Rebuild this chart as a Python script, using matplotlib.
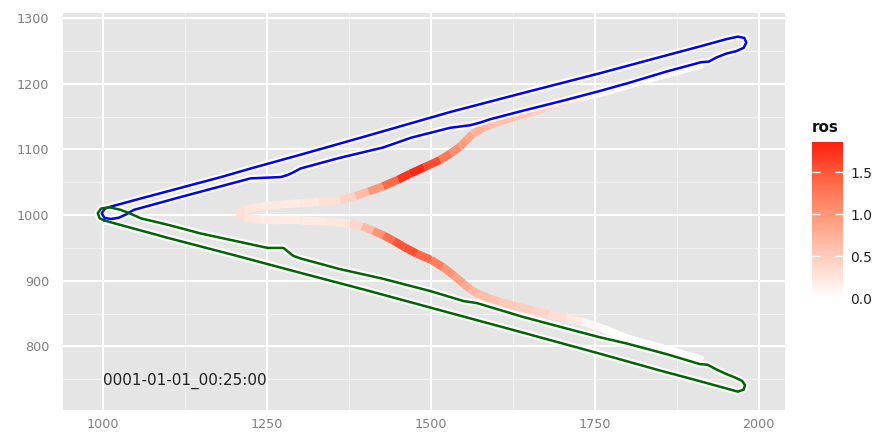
import numpy as np
import matplotlib.pyplot as plt
from matplotlib.collections import LineCollection
from matplotlib.colors import LinearSegmentedColormap, Normalize

# perimeter of the upper (blue) fire front
blue_x = [1003, 1012, 1060, 1120, 1180, 1225, 1301, 1400, 1529, 1640, 1757, 1850, 1910, 1950,
          1968, 1978, 1981, 1977, 1966, 1950, 1935, 1924, 1912, 1860, 1800, 1757, 1700, 1640,
          1590, 1575, 1560, 1529, 1470, 1427, 1360, 1301, 1290, 1281, 1271, 1225, 1180, 1120,
          1080, 1047, 1035, 1024, 1012, 1002, 998, 1003]
blue_y = [1010, 1013, 1026, 1042, 1058, 1071, 1092, 1120, 1157, 1186, 1216, 1241, 1257, 1268,
          1272, 1270, 1263, 1255, 1250, 1246, 1240, 1234, 1233, 1219, 1201, 1189, 1174, 1159,
          1146, 1141, 1137, 1133, 1118, 1103, 1087, 1071, 1065, 1061, 1058, 1056, 1044, 1028,
          1017, 1008, 1001, 996, 994, 996, 1003, 1010]

# perimeter of the lower (green) fire front
green_x = [1002, 1012, 1100, 1200, 1301, 1400, 1529, 1640, 1757, 1850, 1910, 1950, 1968, 1977,
           1979, 1975, 1965, 1950, 1935, 1922, 1910, 1860, 1800, 1757, 1700, 1640, 1590, 1570,
           1550, 1500, 1427, 1360, 1301, 1290, 1275, 1251, 1200, 1149, 1100, 1058, 1040, 1027,
           1010, 997, 992, 995, 1002]
green_y = [992, 989, 965, 939, 912, 886, 851, 821, 789, 763, 747, 736, 731, 734,
           741, 747, 752, 758, 765, 772, 773, 788, 804, 814, 829, 845, 860, 866,
           869, 884, 903, 918, 934, 938, 950, 950, 961, 972, 985, 995, 1003, 1008,
           1012, 1010, 1003, 995, 992]

# rate of spread along the two branches
up_x = [1205, 1215, 1240, 1270, 1301, 1330, 1362, 1385, 1405, 1427, 1450, 1468, 1490, 1514, 1530,
        1544, 1555, 1564, 1580, 1594, 1625, 1655, 1680, 1706, 1725, 1742, 1780, 1850, 1915]
up_y = [1003, 1008, 1013, 1016, 1018, 1020, 1023, 1029, 1036, 1044, 1054, 1063, 1073, 1084, 1094,
        1104, 1115, 1124, 1133, 1139, 1149, 1157, 1166, 1174, 1178, 1182, 1192, 1213, 1230]
up_ros = [0.35, 0.3, 0.22, 0.2, 0.2, 0.25, 0.35, 0.5, 0.8, 1.2, 1.6, 1.86, 1.75, 1.4, 1.15,
          1.0, 0.9, 0.8, 0.7, 0.65, 0.58, 0.5, 0.42, 0.32, 0.2, 0.1, 0.02, 0.0, 0.04]

lo_x = [1205, 1215, 1240, 1270, 1301, 1340, 1377, 1395, 1412, 1428, 1443, 1460, 1479, 1500, 1518,
        1535, 1549, 1560, 1570, 1590, 1605, 1630, 1655, 1680, 1706, 1730, 1760, 1800, 1850, 1915]
lo_y = [1003, 997, 993, 992, 992, 990, 987, 983, 976, 969, 961, 951, 941, 932, 921,
        908, 896, 887, 881, 873, 868, 861, 855, 849, 843, 838, 828, 812, 798, 779]
lo_ros = [0.35, 0.3, 0.22, 0.2, 0.2, 0.22, 0.3, 0.5, 0.85, 1.2, 1.45, 1.6, 1.5, 1.3, 1.1,
          0.95, 0.85, 0.75, 0.68, 0.6, 0.55, 0.5, 0.45, 0.38, 0.28, 0.15, 0.05, 0.0, 0.0, 0.04]

stamp = "0001-01-01_00:25:00"

cmap = LinearSegmentedColormap.from_list(
    "ros", ["#FFFFFF", "#FFCFBF", "#FF9E81", "#FF6846", "#FF2010"])
norm = Normalize(0, max(up_ros + lo_ros))

fig = plt.figure(figsize=(8.91, 4.34), dpi=100)
ax = fig.add_axes([63 / 891, 24 / 434, 722 / 891, 397 / 434])
ax.set_facecolor("#E5E5E5")


def segments(x, y, v):
    pts = np.column_stack([x, y])
    segs = np.stack([pts[:-1], pts[1:]], axis=1)
    vals = (np.array(v[:-1]) + np.array(v[1:])) / 2
    return segs, vals


for x, y, v in [(up_x, up_y, up_ros), (lo_x, lo_y, lo_ros)]:
    segs, vals = segments(x, y, v)
    lc = LineCollection(segs, cmap=cmap, norm=norm, linewidths=5.8,
                        capstyle="butt", joinstyle="round", zorder=2)
    lc.set_array(vals)
    ax.add_collection(lc)

for x, y, c in [(blue_x, blue_y, "#0000FF"), (green_x, green_y, "#006400")]:
    ax.plot(x, y, color="white", lw=5, solid_joinstyle="round", alpha=0.9, zorder=3)
    ax.plot(x, y, color=c, lw=1.8, solid_joinstyle="round", zorder=4)

ax.text(1125, 747, stamp, ha="center", va="center", fontsize=11, color="#222222")

ax.set_xlim(939, 2040)
ax.set_ylim(703, 1308)
ax.set_xticks([1000, 1250, 1500, 1750, 2000])
ax.set_xticks([1125, 1375, 1625, 1875], minor=True)
ax.set_yticks([800, 900, 1000, 1100, 1200, 1300])
ax.set_yticks([750, 850, 950, 1050, 1150, 1250], minor=True)
ax.grid(which="major", color="white", lw=1.5)
ax.grid(which="minor", color="#F2F2F2", lw=0.7)
ax.set_axisbelow(True)
ax.tick_params(which="both", length=0, labelsize=9.2, labelcolor="#7F7F7F")
ax.tick_params(axis="y", pad=10)
ax.tick_params(axis="x", pad=6)
for s in ax.spines.values():
    s.set_visible(False)

# colour bar legend
cax = fig.add_axes([812 / 891, 136 / 434, 31 / 891, 156 / 434])
cb = fig.colorbar(plt.cm.ScalarMappable(norm=norm, cmap=cmap), cax=cax)
cb.outline.set_visible(False)
cb.set_ticks([0.0, 0.5, 1.0, 1.5])
cb.set_ticklabels(["0.0", "0.5", "1.0", "1.5"])
cax.tick_params(axis="y", direction="in", color="white", length=6, width=1,
                left=True, right=True, labelsize=10, labelcolor="#222222", pad=5)
fig.text(812 / 891, 1 - 128 / 434, "ros", fontsize=11, fontweight="bold",
         ha="left", va="center", color="#111111")

fig.savefig("out.png", dpi=100)
